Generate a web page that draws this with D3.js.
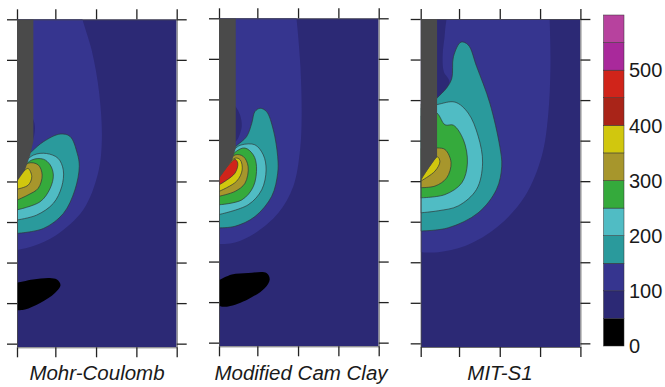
<!DOCTYPE html>
<html>
<head>
<meta charset="utf-8">
<script src="https://cdn.jsdelivr.net/npm/d3@7"></script>
<style>
  html, body { margin: 0; padding: 0; background: #fff; }
  svg { display: block; }
  text { font-family: "Liberation Sans", Arial, sans-serif; }
</style>
</head>
<body>
<div id="chart"></div>
<script>
// colour bands, lowest first, 50 units each
const bandStops = [0, 50, 100, 150, 200, 250, 300, 350, 400, 450, 500, 550, 600];
const bandColors = ["#000000", "#2c2975", "#36358f", "#2a9a9c", "#50bcc4", "#35aa3c",
    "#a7962c", "#d1c70e", "#a92418", "#d0241a", "#a9299b", "#b7429e"];
const barTicks = [0, 100, 200, 300, 400, 500];

const xTicks = [0, 0.96, 1.98, 2.99, 4];
const yTicks = [0, 1, 2, 3, 4, 5, 6, 7, 8];

// contours are [distance, depth]
const mcWall = [[0, 0], [0.41, 0], [0.41, 3], [0.33, 3.35], [0.2, 3.72], [0, 4]];
const mcBand = [[0, -0.3], [1.58, -0.3], [1.64, 0], [1.87, 0.76], [2.06, 1.83], [2.125, 2.98], [2.03, 3.8], [1.66, 4.7], [0.99, 5.32], [0.41, 5.59], [0, 5.69]];
const mcPocket = [[0.3, 2.3], [0.41, 2.48], [0.45, 2.69], [0.38, 3.06], [0.3, 3.2]];
const mcTeal = [[0, 3.6], [0.37, 3.26], [0.66, 3.02], [1.08, 2.83], [1.33, 2.89], [1.51, 3.31], [1.56, 3.63], [1.45, 4.21], [1.16, 4.79], [0.66, 5.16], [0, 5.28]];
const mcLight = [[0, 3.7], [0.41, 3.35], [0.74, 3.31], [1.03, 3.43], [1.16, 3.72], [1.12, 4.13], [0.91, 4.54], [0.49, 4.83], [0, 4.95]];
const mcGreen = [[0, 3.8], [0.37, 3.47], [0.66, 3.45], [0.83, 3.59], [0.91, 3.84], [0.83, 4.17], [0.58, 4.5], [0, 4.7]];
const mcOlive = [[0, 3.9], [0.28, 3.55], [0.53, 3.59], [0.63, 3.84], [0.53, 4.17], [0.28, 4.33], [0, 4.46]];
const mcYellow = [[0, 3.95], [0.2, 3.72], [0.28, 3.68], [0.37, 3.88], [0.28, 4.09], [0, 4.19]];
const mcBlack = [[0, 6.5], [0.4, 6.42], [0.82, 6.38], [1.0, 6.42], [1.09, 6.56], [0.95, 6.75], [0.58, 7], [0.2, 7.16], [0, 7.18]];

const mccWall = [[0, 0], [0.42, 0], [0.42, 3.2], [0.33, 3.5], [0, 3.95]];
const mccBand = [[0, -0.3], [1.9, -0.3], [1.94, 0], [2.04, 1.2], [2.07, 2.43], [2.03, 3.25], [1.86, 4.15], [1.48, 4.81], [0.9, 5.3], [0.4, 5.53], [0, 5.57]];
const mccPocket = [[0.35, 2.1], [0.42, 2.18], [0.53, 2.39], [0.57, 2.67], [0.48, 2.96], [0.42, 3.04], [0.35, 3.1]];
const mccTeal = [[0, 3.6], [0.42, 3.16], [0.69, 2.92], [0.82, 2.59], [0.9, 2.3], [1.03, 2.22], [1.19, 2.3], [1.36, 2.75], [1.47, 3.41], [1.47, 3.82], [1.32, 4.39], [0.9, 4.89], [0.4, 5.13], [0, 5.17]];
const mccLight = [[0, 3.7], [0.42, 3.2], [0.57, 3.12], [0.9, 3.12], [1.11, 3.37], [1.18, 3.74], [1.07, 4.23], [0.73, 4.6], [0, 4.84]];
const mccGreen = [[0, 3.8], [0.42, 3.29], [0.65, 3.2], [0.86, 3.37], [0.94, 3.66], [0.86, 4.15], [0.57, 4.48], [0, 4.6]];
const mccOlive = [[0, 3.85], [0.4, 3.37], [0.61, 3.41], [0.73, 3.66], [0.65, 4.07], [0.4, 4.27], [0, 4.39]];
const mccYellow = [[0, 3.9], [0.4, 3.45], [0.53, 3.49], [0.58, 3.74], [0.44, 4.02], [0, 4.27]];
const mccRed = [[0, 3.92], [0.4, 3.48], [0.47, 3.57], [0.4, 3.82], [0, 4.11]];
const mccBlack = [[0, 6.46], [0.32, 6.32], [0.73, 6.28], [1.19, 6.28], [1.27, 6.44], [1.15, 6.65], [0.73, 6.93], [0.23, 7.11], [0, 7.1]];

const mitWall = [[0, 0], [0.41, 0], [0.41, 3.39], [0, 3.96]];
const mitBand = [[0, -0.3], [3.22, -0.3], [3.23, 0], [3.25, 1.17], [3.19, 2.4], [3.03, 3.39], [2.61, 4.37], [1.94, 5.11], [1.11, 5.6], [0.44, 5.75], [0, 5.75]];
const mitPocket = [[0.3, -0.3], [0.62, -0.3], [0.61, 0.3], [0.55, 0.9], [0.58, 1.3], [0.72, 1.55], [0.41, 2.1], [0.3, 2.2]];
const mitTeal = [[0, 2.4], [0.41, 1.95], [0.65, 1.7], [0.78, 1.46], [0.82, 0.93], [1.01, 0.57], [1.19, 0.64], [1.4, 1.17], [1.73, 2.07], [1.98, 3.14], [2.03, 3.63], [1.9, 4.2], [1.44, 4.78], [0.69, 5.15], [0, 5.23]];
const mitLight = [[0, 2.2], [0.41, 2.11], [0.86, 2.05], [1.19, 2.32], [1.44, 2.89], [1.55, 3.55], [1.4, 4.2], [0.94, 4.61], [0.44, 4.73], [0, 4.78]];
const mitGreen = [[0, 2.1], [0.41, 2.32], [0.61, 2.61], [0.82, 2.62], [1.07, 2.98], [1.17, 3.55], [1.03, 4.04], [0.61, 4.33], [0, 4.41]];
const mitOlive = [[0, 3.2], [0.41, 3.18], [0.61, 3.22], [0.76, 3.54], [0.65, 3.92], [0.36, 4.12], [0, 4.16]];
const mitYellow = [[0, 3.98], [0.42, 3.4], [0.48, 3.52], [0.36, 3.75], [0, 4]];

const width = 665, height = 387;
const wallColor = "#4a4a4a";
const lineColor = "#2f3a3a";

const panels = [
    { name: "Mohr-Coulomb", left: 17, top: 19.3, labelX: 97, wall: mcWall, band: mcBand, pocket: mcPocket, black: mcBlack,
      levels: [[mcTeal, 3], [mcLight, 4], [mcGreen, 5], [mcOlive, 6], [mcYellow, 7]] },
    { name: "Modified Cam Clay", left: 219, top: 18.3, labelX: 301, wall: mccWall, band: mccBand, pocket: mccPocket, black: mccBlack,
      levels: [[mccTeal, 3], [mccLight, 4], [mccGreen, 5], [mccOlive, 6], [mccYellow, 7], [mccRed, 9]] },
    { name: "MIT-S1", left: 420.7, top: 19, labelX: 500, wall: mitWall, band: mitBand, pocket: mitPocket, black: null,
      levels: [[mitTeal, 3], [mitLight, 4], [mitGreen, 5], [mitOlive, 6], [mitYellow, 7]] }
];

const svg = d3.select("#chart").append("svg")
    .attr("width", width)
    .attr("height", height);

const curve = d3.line().curve(d3.curveCatmullRom.alpha(0.5));

panels.forEach((p, i) => {
    // the plot runs a little past the last depth tick
    const w = 159.7, h = 328;
    const x = d3.scaleLinear().domain([0, 4]).range([p.left, p.left + w]);
    const y = d3.scaleLinear().domain([0, 8.09]).range([p.top, p.top + h]);
    const toPath = pts => curve(pts.map(d => [x(d[0]), y(d[1])])) + "Z";

    const clipId = "clip" + i;
    svg.append("clipPath").attr("id", clipId).append("rect")
        .attr("x", p.left).attr("y", p.top).attr("width", w).attr("height", h);

    const g = svg.append("g").attr("clip-path", `url(#${clipId})`);

    g.append("rect")
        .attr("x", p.left).attr("y", p.top).attr("width", w).attr("height", h)
        .attr("fill", bandColors[1]);
    g.append("path").attr("d", toPath(p.band)).attr("fill", bandColors[2]);
    g.append("path").attr("d", toPath(p.pocket)).attr("fill", bandColors[1]);
    if (p.black) g.append("path").attr("d", toPath(p.black)).attr("fill", bandColors[0]);

    p.levels.forEach(l => {
        g.append("path")
            .attr("d", toPath(l[0]))
            .attr("fill", bandColors[l[1]])
            .attr("stroke", lineColor)
            .attr("stroke-width", 0.7);
    });

    g.append("path")
        .attr("d", d3.line()(p.wall.map(d => [x(d[0]), y(d[1])])) + "Z")
        .attr("fill", wallColor);

    // ticks stick out on all four sides, no labels
    const axes = [
        [d3.axisTop(x).tickValues(xTicks), 0, p.top],
        [d3.axisBottom(x).tickValues(xTicks), 0, p.top + h],
        [d3.axisLeft(y).tickValues(yTicks), p.left, 0],
        [d3.axisRight(y).tickValues(yTicks), p.left + w, 0]
    ];
    axes.forEach(a => {
        const ax = svg.append("g")
            .attr("transform", `translate(${a[1]},${a[2]})`)
            .call(a[0].tickSize(10).tickSizeOuter(0).tickFormat(""));
        ax.selectAll("line").attr("stroke", "#222").attr("stroke-width", 1.3);
        ax.select(".domain").attr("stroke", "#4a4a4a").attr("stroke-width", 0.8);
    });

    svg.append("text")
        .attr("x", p.labelX)
        .attr("y", 380)
        .attr("text-anchor", "middle")
        .attr("font-size", 20.5)
        .attr("font-style", "italic")
        .attr("fill", "#1a1a1a")
        .text(p.name);
});

// colour bar
const barX = 603.5, barW = 20.5;
const barY = d3.scaleLinear().domain([0, 600]).range([346, 15]);

svg.selectAll("rect.band")
    .data(bandColors)
    .enter()
    .append("rect")
    .attr("class", "band")
    .attr("x", barX)
    .attr("width", barW)
    .attr("y", (d, i) => barY(bandStops[i + 1]))
    .attr("height", (d, i) => barY(bandStops[i]) - barY(bandStops[i + 1]))
    .attr("fill", d => d)
    .attr("stroke", "#333")
    .attr("stroke-width", 0.5);

svg.selectAll("text.bar")
    .data(barTicks)
    .enter()
    .append("text")
    .attr("class", "bar")
    .attr("x", 629)
    .attr("y", d => barY(d))
    .attr("dy", "0.36em")
    .attr("font-size", 20)
    .attr("fill", "#1a1a1a")
    .text(d => d);
</script>
</body>
</html>
